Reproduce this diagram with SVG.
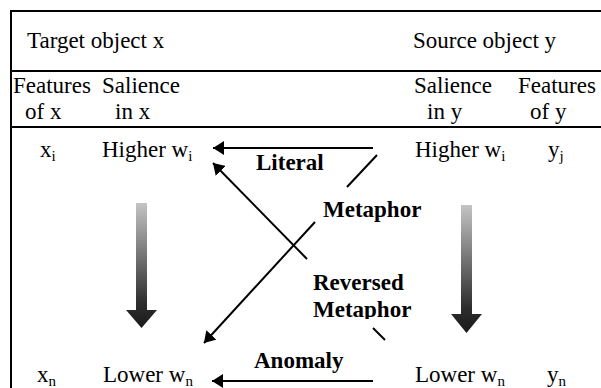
<svg xmlns="http://www.w3.org/2000/svg" width="601" height="388" viewBox="0 0 601 388">
<style>
  text { font-family: "Times New Roman", "Liberation Serif", Times, serif; font-size: 23px; fill: #000; }
  .b { font-weight: bold; }
  .sub { font-size: 15px; }
  .frame { stroke: #000; stroke-width: 2; fill: none; }
  .conn { stroke: #000; stroke-width: 2; fill: none; }
</style>
<defs>
  <marker id="ah" viewBox="0 0 11 14" refX="11" refY="7" markerWidth="11" markerHeight="14" markerUnits="userSpaceOnUse" orient="auto">
    <path d="M0,0 L11,7 L0,14 z" fill="#000"/>
  </marker>
  <linearGradient id="g" x1="0" y1="0" x2="0" y2="1">
    <stop offset="0" stop-color="#c4c4c4"/>
    <stop offset="0.8" stop-color="#2e2e2e"/>
    <stop offset="1" stop-color="#1a1a1a"/>
  </linearGradient>
  <clipPath id="clipRev">
    <rect x="300" y="265" width="120" height="54"/>
  </clipPath>
</defs>

<g id="frame">
  <line class="frame" x1="11" y1="11" x2="601" y2="11"/>
  <line class="frame" x1="11" y1="71" x2="601" y2="71"/>
  <line class="frame" x1="11" y1="127" x2="601" y2="127"/>
  <line class="frame" x1="11" y1="10" x2="11" y2="388"/>
</g>

<g id="headers">
  <text x="27" y="48">Target object x</text>
  <text x="413" y="48">Source object y</text>
  <text x="13" y="93">Features</text>
  <text x="25" y="119">of x</text>
  <text x="102" y="93">Salience</text>
  <text x="115" y="119">in x</text>
  <text x="414" y="93">Salience</text>
  <text x="427" y="119">in y</text>
  <text x="518" y="93">Features</text>
  <text x="530" y="119">of y</text>
</g>

<g id="node-xi"><text x="40" y="157">x<tspan class="sub" dy="4">i</tspan></text></g>
<g id="node-higher-x"><text x="102" y="157">Higher w<tspan class="sub" dy="4">i</tspan></text></g>
<g id="node-higher-y"><text x="415" y="157">Higher w<tspan class="sub" dy="4">i</tspan></text></g>
<g id="node-yj"><text x="548" y="157">y<tspan class="sub" dy="4">j</tspan></text></g>
<g id="node-xn"><text x="37" y="382">x<tspan class="sub" dy="4">n</tspan></text></g>
<g id="node-lower-x"><text x="103" y="382">Lower w<tspan class="sub" dy="4">n</tspan></text></g>
<g id="node-lower-y"><text x="415" y="382">Lower w<tspan class="sub" dy="4">n</tspan></text></g>
<g id="node-yn"><text x="547" y="382">y<tspan class="sub" dy="4">n</tspan></text></g>

<g id="gradient-arrows">
  <path d="M136,203 L147,203 L147,310 L157,310 L141.5,328 L126,310 L136,310 z" fill="url(#g)"/>
  <path d="M461,205 L472,205 L472,314 L482,314 L466.5,333 L451,314 L461,314 z" fill="url(#g)"/>
</g>

<g id="connectors">
  <line class="conn" x1="373" y1="148" x2="213" y2="148" marker-end="url(#ah)"/>
  <line class="conn" x1="373" y1="381" x2="212" y2="381" marker-end="url(#ah)"/>
  <line class="conn" x1="377" y1="155" x2="347" y2="187"/>
  <line class="conn" x1="315" y1="222" x2="204" y2="343" marker-end="url(#ah)"/>
  <line class="conn" x1="385" y1="340" x2="373" y2="328"/>
  <line class="conn" x1="307" y1="259" x2="213" y2="163" marker-end="url(#ah)"/>
</g>

<g id="labels">
  <text class="b" x="256" y="170">Literal</text>
  <text class="b" x="323" y="217">Metaphor</text>
  <g clip-path="url(#clipRev)">
    <text class="b" x="313" y="290">Reversed</text>
    <text class="b" x="313" y="317">Metaphor</text>
  </g>
  <text class="b" x="254" y="368">Anomaly</text>
</g>
</svg>
